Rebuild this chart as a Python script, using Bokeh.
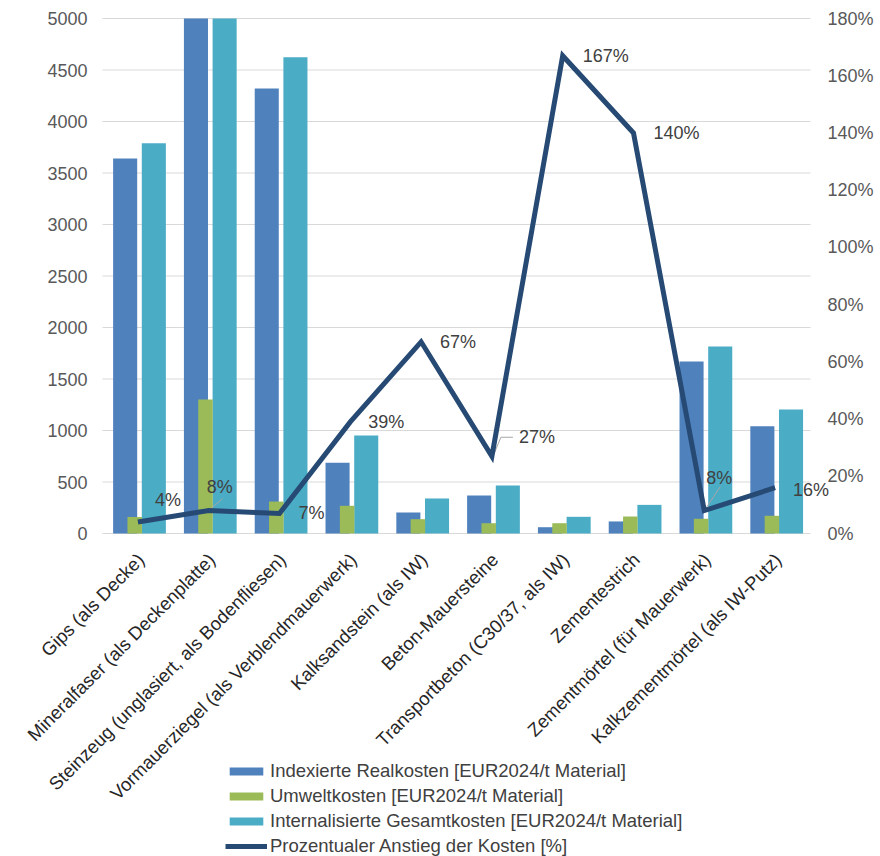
import math
from bokeh.plotting import figure
from bokeh.models import ColumnDataSource, Range1d, Legend, LegendItem
from bokeh.core.properties import value
from bokeh.embed import file_html
from bokeh.resources import INLINE

# ---------------- data ----------------
categories = [
    "Gips (als Decke)",
    "Mineralfaser (als Deckenplatte)",
    "Steinzeug (unglasiert, als Bodenfliesen)",
    "Vormauerziegel (als Verblendmauerwerk)",
    "Kalksandstein (als IW)",
    "Beton-Mauersteine",
    "Transportbeton (C30/37, als IW)",
    "Zementestrich",
    "Zementmörtel (für Mauerwerk)",
    "Kalkzementmörtel (als IW-Putz)",
]
realkosten = [3640, 16300, 4320, 686, 204, 369, 61, 117, 1670, 1042]
umweltkosten = [160, 1300, 310, 269, 139, 100, 100, 165, 143, 172]
gesamtkosten = [3790, 17600, 4625, 951, 340, 466, 162, 278, 1815, 1204]
anstieg = [4, 8, 7, 39, 67, 27, 167, 140, 8, 16]
anstieg_labels = ["4%", "8%", "7%", "39%", "67%", "27%", "167%", "140%", "8%", "16%"]
left_ticks = [0, 500, 1000, 1500, 2000, 2500, 3000, 3500, 4000, 4500, 5000]
left_tick_labels = ["0", "500", "1000", "1500", "2000", "2500", "3000", "3500", "4000", "4500", "5000"]
right_ticks = [0, 20, 40, 60, 80, 100, 120, 140, 160, 180]
right_tick_labels = ["0%", "20%", "40%", "60%", "80%", "100%", "120%", "140%", "160%", "180%"]
Y_MAX = 5000
PCT_MAX = 180

series_names = [
    "Indexierte Realkosten [EUR2024/t Material]",
    "Umweltkosten [EUR2024/t Material]",
    "Internalisierte Gesamtkosten [EUR2024/t Material]",
    "Prozentualer Anstieg der Kosten [%]",
]

# ---------------- styling / layout ----------------
FONT = "Liberation Sans"
FS = "18px"
FS_BIG = "18.5px"
C_BLUE = "#4F81BD"
C_GREEN = "#9BBB59"
C_CYAN = "#4BACC6"
C_LINE = "#264A73"
GRID = "#D9D9D9"
TXT = "#404040"
AX_TXT = "#595959"

W, H = 880, 856
FL, FR, FT, FB = 102, 810, 18, 533          # plot area of the chart (pixels)
N = len(categories)
PX_X = (FR - FL) / N
PX_Y = (FB - FT) / Y_MAX
PX_PCT = (FB - FT) / PCT_MAX

xc = [i + 0.5 for i in range(N)]

p = figure(width=W, height=H,
           x_range=Range1d(-FL / PX_X, N + (W - FR) / PX_X),
           y_range=Range1d(-(H - FB) / PX_Y, Y_MAX + FT / PX_Y),
           output_backend="svg", toolbar_location=None,
           x_axis_location=None, y_axis_location=None, min_border=0)
p.outline_line_color = None
p.background_fill_color = "white"
p.border_fill_color = "white"
p.xgrid.visible = False
p.ygrid.visible = False
p.extra_y_ranges = {"pct": Range1d(-(H - FB) / PX_PCT, PCT_MAX + FT / PX_PCT)}

# gridlines (left-axis ticks)
p.segment(x0=[0] * len(left_ticks), x1=[N] * len(left_ticks),
          y0=left_ticks, y1=left_ticks, line_color=GRID, line_width=1)

def clip(vals):
    return [min(v, Y_MAX) for v in vals]

r_blue = p.vbar(x=[v - 0.18 for v in xc], top=clip(realkosten), width=0.34,
                fill_color=C_BLUE, line_color=None)
r_cyan = p.vbar(x=[v + 0.225 for v in xc], top=clip(gesamtkosten), width=0.34,
                fill_color=C_CYAN, line_color=None)
r_green = p.vbar(x=[v - 0.045 for v in xc], top=clip(umweltkosten), width=0.205,
                 fill_color=C_GREEN, line_color=None)

# leader lines (pixel offsets from the line point)
leaders = [
    (1, [(2, 2), (14, 12)]),
    (5, [(2, 2), (9, 19), (21, 19)]),
    (8, [(2, 3), (16, 24)]),
]
lx, ly = [], []
for idx, pts in leaders:
    lx.append([xc[idx] + dx / PX_X for dx, dy in pts])
    ly.append([anstieg[idx] + dy / PX_PCT for dx, dy in pts])
p.multi_line(xs=lx, ys=ly, line_color="#A6A6A6", line_width=1, y_range_name="pct")

src = ColumnDataSource(dict(x=xc, pct=anstieg))
r_line = p.line(x="x", y="pct", source=src, line_color=C_LINE, line_width=5,
                line_join="miter", y_range_name="pct")

# data labels
xo = [17, -2, 19, 18, 19, 27, 20, 20, 2, 18]
yo = [-22, -24, 0, 0, 0, -19, 0, 0, -33, 2]
lsrc = ColumnDataSource(dict(x=xc, y=anstieg, t=anstieg_labels, xo=xo, yo=yo))
p.text(x="x", y="y", text="t", x_offset="xo", y_offset="yo", source=lsrc,
       y_range_name="pct", text_font=value(FONT), text_font_size=FS,
       text_color=TXT, text_align="left", text_baseline="middle")

# left axis labels
p.text(x=[0] * len(left_ticks), y=left_ticks, text=left_tick_labels,
       x_offset=-15, text_font=value(FONT), text_font_size=FS,
       text_color=AX_TXT, text_align="right", text_baseline="middle")
# right axis labels
p.text(x=[N] * len(right_ticks), y=right_ticks, text=right_tick_labels,
       x_offset=17, y_range_name="pct", text_font=value(FONT), text_font_size=FS,
       text_color=AX_TXT, text_align="left", text_baseline="middle")
# category labels (rotated 45 degrees)
CAT_DX, CAT_DY = 3, 23
p.text(x=[v + CAT_DX / PX_X for v in xc], y=[-CAT_DY / PX_Y] * N, text=categories,
       angle=math.pi / 4, text_font=value(FONT), text_font_size=FS_BIG,
       text_color="#262626", text_align="right", text_baseline="middle")

legend = Legend(items=[
    LegendItem(label=series_names[0], renderers=[r_blue]),
    LegendItem(label=series_names[1], renderers=[r_green]),
    LegendItem(label=series_names[2], renderers=[r_cyan]),
    LegendItem(label=series_names[3], renderers=[r_line]),
], location=(225, -1))
legend.border_line_color = None
legend.background_fill_alpha = 0
legend.padding = 0
legend.margin = 0
legend.spacing = 3
legend.label_text_font = FONT
legend.label_text_font_size = FS_BIG
legend.label_text_color = TXT
legend.glyph_width = 42
legend.glyph_height = 10
legend.label_height = 20
legend.label_standoff = 3
p.add_layout(legend, "center")

open("out.html", "w").write(file_html(p, INLINE))
